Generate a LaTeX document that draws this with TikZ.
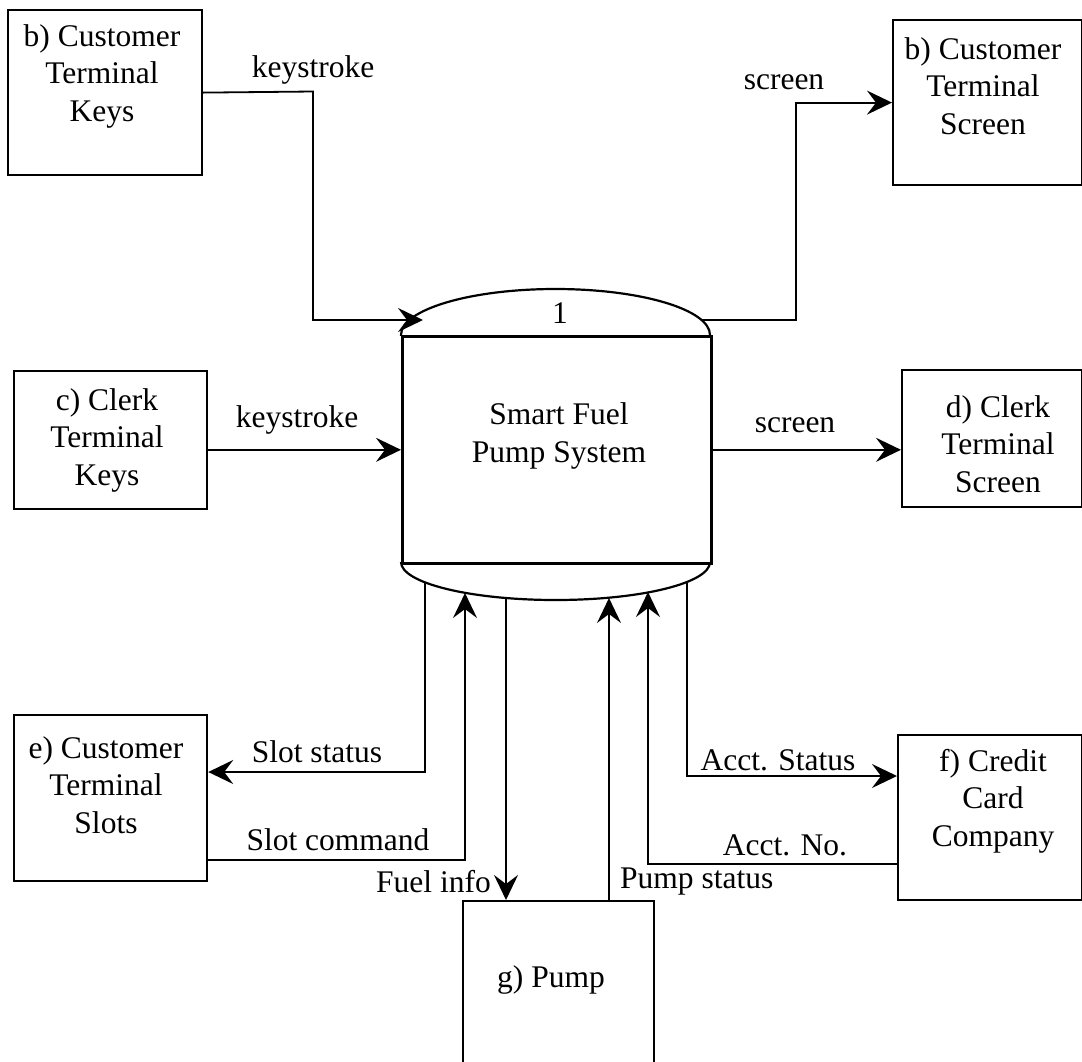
\documentclass[tikz,border=0pt]{standalone}
\usepackage{fontspec}
\setmainfont{Liberation Serif}
\usetikzlibrary{arrows.meta}
\begin{document}
\begin{tikzpicture}[x=1pt,y=-1pt,
  txt/.style={font=\fontsize{31.5}{37.5}\selectfont, align=center, inner sep=0pt},
  ent/.style={draw, line width=2.2pt, inner sep=0pt, anchor=north west},
  flow/.style={line width=1.8pt, -{Stealth[length=25pt,width=24pt,inset=9pt]}}
]
\useasboundingbox (0,0) rectangle (1082,1061);

% external entities
\node[ent, minimum width=194pt, minimum height=165pt] (ctk) at (7,9) {};
\node[ent, minimum width=189pt, minimum height=165pt] (cts) at (892,19) {};
\node[ent, minimum width=193pt, minimum height=138pt] (clk) at (13,370) {};
\node[ent, minimum width=180pt, minimum height=137pt] (cls) at (901,369) {};
\node[ent, minimum width=193pt, minimum height=166pt] (slots) at (13,714) {};
\node[ent, minimum width=184pt, minimum height=165pt] (ccc) at (897,734) {};
\node[ent, minimum width=191pt, minimum height=175pt] (pump) at (462,900) {};

\node[txt] (ctkT) at (102,76) {b) Customer\\Terminal\\Keys};
\node[txt] (ctsT) at (983,86) {b) Customer\\Terminal\\Screen};
\node[txt] (clkT) at (107,440) {c) Clerk\\Terminal\\Keys};
\node[txt] (clsT) at (998,444) {d) Clerk\\Terminal\\Screen};
\node[txt] (slotsT) at (106,785) {e) Customer\\Terminal\\Slots};
\node[txt] (cccT) at (993,801) {f) Credit\\Card\\Company};
\node[txt] (pumpT) at (551,980) {g) Pump};

% process 1
\node[draw, line width=2.6pt, inner sep=0pt, anchor=north west,
      minimum width=309pt, minimum height=227pt] (proc) at (401,335) {};
\begin{scope}
  \clip (390,270) rectangle (725,335);
  \draw[line width=2.2pt] (555.5,335) ellipse [x radius=154.5, y radius=46];
\end{scope}
\begin{scope}
  \clip (390,562) rectangle (725,615);
  \draw[line width=2.2pt] (555.5,562) ellipse [x radius=154.5, y radius=38];
\end{scope}
\node[txt] (pnum) at (560,313) {1};
\node[txt] (pname) at (559,436) {Smart Fuel\\Pump System};

% ports on the caps of the process
\coordinate (pTL) at (423,320);
\coordinate (pTR) at (702,320);
\coordinate (b1) at (425,582);
\coordinate (b2) at (465,593);
\coordinate (b3) at (506,598);
\coordinate (b4) at (609,598);
\coordinate (b5) at (648,592);
\coordinate (b6) at (687,582);

% data flows
\draw[flow] (ctk.east) -- (313,91.5) -- (313,320) -- (pTL);
\node[txt] at (313,70) {keystroke};

\draw[flow] (pTR) -- (796,320) |- (cts.west);
\node[txt] at (784,82) {screen};

\draw[flow] (clk.east |- proc.west) -- (proc.west);
\node[txt] at (297,420) {keystroke};

\draw[flow] (proc.east) -- (cls.west |- proc.east);
\node[txt] at (795,425) {screen};

\draw[flow] (b1) -- (425,772) -- (slots.east |- 0,772);
\node[txt] at (317,752) {Slot status};

\draw[flow] (slots.east |- 0,860) -- (465,860) -- (b2);
\node[txt] at (338,840) {Slot command};

\draw[flow] (b3) -- (b3 |- pump.north);
\node[txt, anchor=east] at (491,882) {Fuel info};

\draw[flow] (b4 |- pump.north) -- (b4);
\node[txt, anchor=west] at (620,882) {Pump status};

\draw[flow] (b6) -- (687,776) -- (ccc.west |- 0,776);
\node[txt] at (778,760) {Acct. Status};

\draw[flow] (ccc.west |- 0,864) -- (648,864) -- (b5);
\node[txt] at (785,845) {Acct. No.};
\end{tikzpicture}
\end{document}
